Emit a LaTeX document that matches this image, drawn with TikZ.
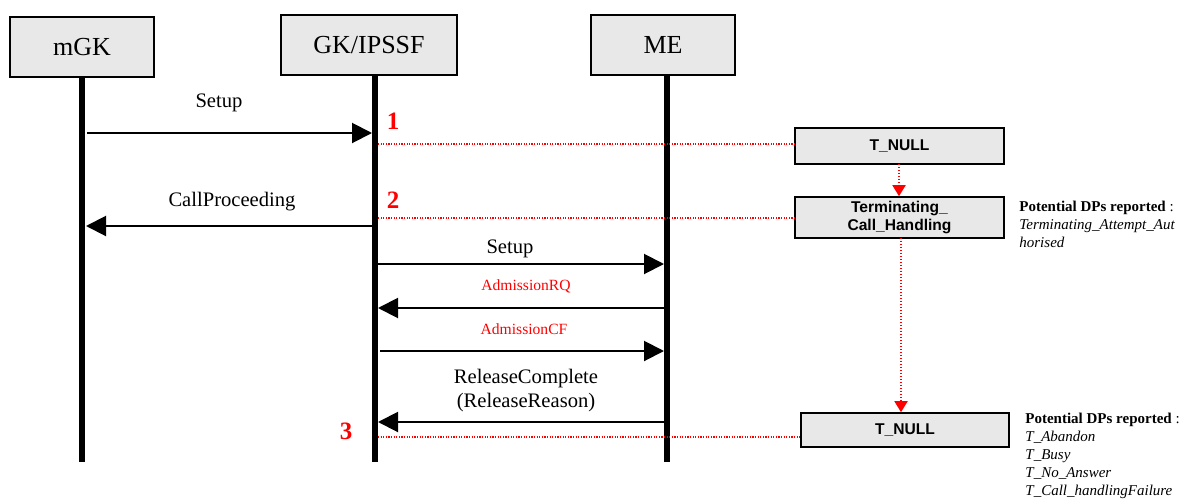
\documentclass[tikz,border=0pt]{standalone}
\usepackage{fontspec}
\setmainfont{Liberation Serif}
\setsansfont{Liberation Sans}
\usepackage{tikz}
\usetikzlibrary{arrows.meta}
\tikzset{>={Triangle[length=10pt,width=10pt]}}
\definecolor{boxgray}{RGB}{232, 232, 232}
\definecolor{dpred}{RGB}{255, 0, 0}
\tikzset{
  entity/.style={draw, fill=boxgray, line width=0.8pt, inner sep=0pt, font=\fontsize{13}{15}\selectfont},
  statebox/.style={draw, fill=boxgray, line width=0.8pt, inner sep=0pt, align=center, font=\sffamily\bfseries\fontsize{7.8}{9.2}\selectfont},
  lifeline/.style={line width=3pt},
  msg/.style={->, line width=1pt},
  msglabel/.style={inner sep=0pt, align=center, font=\fontsize{10.3}{12}\selectfont},
  admlabel/.style={inner sep=0pt, text=dpred, font=\fontsize{7.8}{9}\selectfont},
  dpnum/.style={inner sep=0pt, text=dpred, font=\bfseries\fontsize{12.5}{14}\selectfont},
  dpline/.style={dpred, line width=0.7pt, dash pattern=on 0.6pt off 0.7pt},
  dparrow/.style={dpred, line width=0.9pt, dash pattern=on 0.7pt off 0.8pt, -{Triangle[length=5.5pt,width=6.5pt]}},
  dpnote/.style={anchor=north west, inner sep=0pt, align=left, font=\fontsize{7.5}{9}\selectfont}
}

\begin{document}
\begin{tikzpicture}[x=0.5pt, y=-0.5pt]
\useasboundingbox (0, 0) rectangle (1188, 498);

% entities and lifelines
\node[entity, minimum width=72pt, minimum height=30pt] (mgk) at (82, 47) {mGK};
\node[entity, minimum width=88pt, minimum height=30pt] (gk) at (369, 45) {GK/IPSSF};
\node[entity, minimum width=72pt, minimum height=30pt] (me) at (663, 45) {ME};
\coordinate (mgkend) at (82, 462);
\coordinate (gkend) at (375, 462);
\coordinate (meend) at (667, 462);
\draw[lifeline] (mgk.south) -- (mgkend);
\draw[lifeline] (gk.south -| gkend) -- (gkend);
\draw[lifeline] (me.south -| meend) -- (meend);

% messages
\coordinate (setupA) at (87, 133);   \coordinate (setupB) at (372, 133);
\coordinate (procA) at (372, 226);   \coordinate (procB) at (86, 226);
\coordinate (setupC) at (377, 264);  \coordinate (setupD) at (664, 264);
\coordinate (arqA) at (664, 308);    \coordinate (arqB) at (378, 308);
\coordinate (acfA) at (380, 351);    \coordinate (acfB) at (664, 351);
\coordinate (relA) at (664, 422);    \coordinate (relB) at (378, 422);
\draw[msg] (setupA) -- (setupB);
\draw[msg] (procA) -- (procB);
\draw[msg] (setupC) -- (setupD);
\draw[msg] (arqA) -- (arqB);
\draw[msg] (acfA) -- (acfB);
\draw[msg] (relA) -- (relB);
\node[msglabel] (setup1) at (219, 103) {Setup};
\node[msglabel] (callproc) at (232, 202) {CallProceeding};
\node[msglabel] (setup2) at (510, 249) {Setup};
\node[admlabel] (admrq) at (526, 286) {AdmissionRQ};
\node[admlabel] (admcf) at (524, 329) {AdmissionCF};
\node[msglabel] (relcomp) at (526, 391) {ReleaseComplete\\(ReleaseReason)};

% detection points
\node[dpnum] (dp1) at (393, 121) {1};
\node[dpnum] (dp2) at (393, 200) {2};
\node[dpnum] (dp3) at (346, 431) {3};

% call states
\node[statebox, minimum width=104.5pt, minimum height=18pt] (tnull) at (899.5, 146) {T\_NULL};
\node[statebox, minimum width=104.5pt, minimum height=20.5pt] (term) at (899.5, 217.5) {Terminating\_\\Call\_Handling};
\node[statebox, minimum width=104pt, minimum height=17pt] (tnullb) at (905, 430) {T\_NULL};
\coordinate (tnullout) at (899, 164);
\draw[dparrow] (tnullout) -- (tnullout |- term.north);
\coordinate (termout) at (901, 238);
\draw[dparrow] (termout) -- (termout |- tnullb.north);

\coordinate (dpA) at (378, 144);
\coordinate (dpB) at (378, 218);
\coordinate (dpC) at (378, 437);
\draw[dpline] (dpA) -- (dpA -| tnull.west);
\draw[dpline] (dpB) -- (dpB -| term.west);
\draw[dpline] (dpC) -- (dpC -| tnullb.west);

% reported DPs
\node[dpnote] (note1) at (1019, 201) {\textbf{Potential DPs reported} :\\\textit{Terminating\_Attempt\_Aut}\\\textit{horised}};
\node[dpnote] (note2) at (1025, 413) {\textbf{Potential DPs reported} :\\\textit{T\_Abandon}\\\textit{T\_Busy}\\\textit{T\_No\_Answer}\\\textit{T\_Call\_handlingFailure}};
\end{tikzpicture}
\end{document}
